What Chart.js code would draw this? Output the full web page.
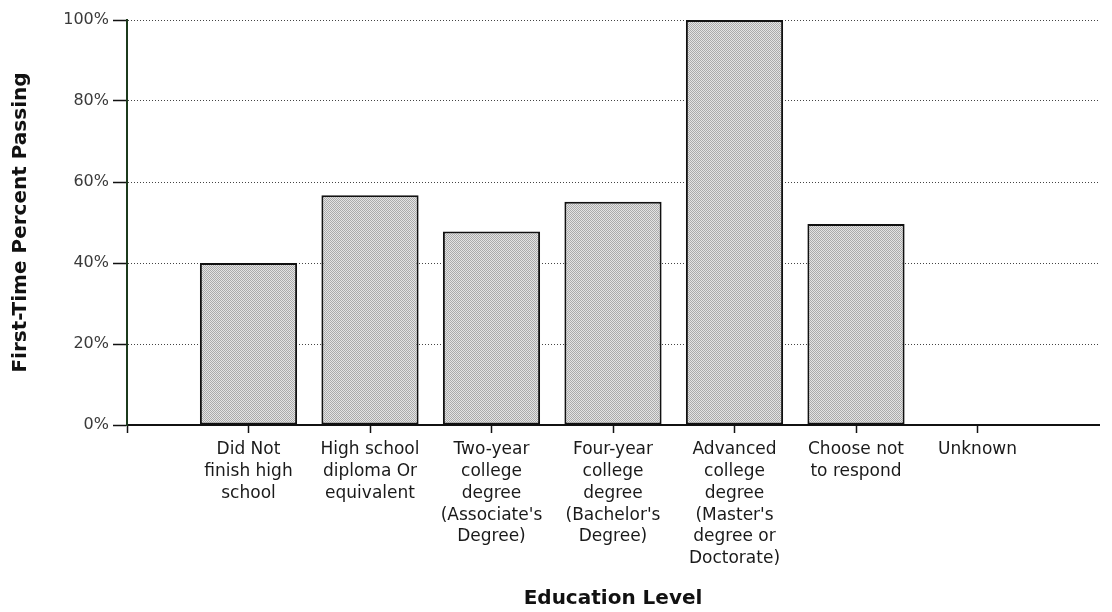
<!DOCTYPE html>
<html>
<head>
<meta charset="utf-8">
<script src="https://cdn.jsdelivr.net/npm/chart.js@4.4.1/dist/chart.umd.min.js"></script>
<style>
  html, body { margin: 0; padding: 0; background: #ffffff; }
  #wrap { width: 1112px; height: 612px; position: relative; }
</style>
</head>
<body>
<div id="wrap"><canvas id="c" width="1112" height="612"></canvas></div>
<script>
// ---- data ----
const categories = [
  "",
  ["Did Not", "finish high", "school"],
  ["High school", "diploma Or", "equivalent"],
  ["Two-year", "college", "degree", "(Associate's", "Degree)"],
  ["Four-year", "college", "degree", "(Bachelor's", "Degree)"],
  ["Advanced", "college", "degree", "(Master's", "degree or", "Doctorate)"],
  ["Choose not", "to respond"],
  ["Unknown"],
  ""
];
const passingPercent = [null, 40, 56.7, 47.8, 55.1, 100, 49.6, null, null];
const yTicks = [0, 20, 40, 60, 80, 100];
const yTitle = "First-Time Percent Passing";
const xTitle = "Education Level";

// stippled grey fill pattern (style only)
function makePattern() {
  const p = document.createElement('canvas');
  p.width = 2; p.height = 2;
  const g = p.getContext('2d');
  g.fillStyle = '#e4e4e4'; g.fillRect(0, 0, 2, 2);
  g.fillStyle = '#ababab'; g.fillRect(0, 0, 1, 1); g.fillRect(1, 1, 1, 1);
  return g.createPattern(p, 'repeat');
}

const ctx = document.getElementById('c').getContext('2d');
new Chart(ctx, {
  type: 'bar',
  data: {
    labels: categories,
    datasets: [{
      data: passingPercent,
      backgroundColor: makePattern(),
      borderColor: '#111111',
      borderWidth: 2,
      borderSkipped: false,
      categoryPercentage: 0.8,
      barPercentage: 1.0
    }]
  },
  options: {
    responsive: false,
    animation: false,
    devicePixelRatio: 1,
    layout: { padding: { top: 20, right: 13, left: 0, bottom: 0 } },
    plugins: { legend: { display: false }, tooltip: { enabled: false } },
    scales: {
      x: {
        type: 'category',
        offset: false,
        grid: {
          display: true,
          offset: false,
          drawOnChartArea: false,
          drawTicks: true,
          tickLength: 8,
          tickWidth: 1.5,
          tickColor: (c) => (c.index === categories.length - 1 ? 'rgba(0,0,0,0)' : '#111111'),
          color: 'rgba(0,0,0,0)'
        },
        border: { display: true, color: '#111111', width: 2 },
        ticks: {
          color: '#1a1a1a',
          font: { family: 'DejaVu Sans, Verdana, sans-serif', size: 17, lineHeight: 1.28 },
          maxRotation: 0,
          minRotation: 0,
          autoSkip: false,
          padding: 6
        },
        title: {
          display: true,
          text: xTitle,
          color: '#111111',
          font: { family: 'DejaVu Sans, Verdana, sans-serif', size: 20, weight: 'bold' },
          padding: { top: 0, bottom: 1 }
        },
        afterFit: (s) => { s.height = 187; }
      },
      y: {
        min: 0,
        max: 100,
        afterBuildTicks: (s) => { s.ticks = yTicks.map(v => ({ value: v })); },
        grid: {
          display: true,
          drawOnChartArea: true,
          color: '#444444',
          lineWidth: 1,
          tickLength: 14,
          tickColor: '#111111',
          tickWidth: 1.5,
          tickBorderDash: [1, 0]
        },
        border: { display: true, color: '#1c3a1c', width: 2, dash: [1, 2] },
        ticks: {
          color: '#3a3a3a',
          font: { family: 'DejaVu Sans, Verdana, sans-serif', size: 16 },
          padding: 4,
          callback: (v) => v + '%'
        },
        title: {
          display: true,
          text: yTitle,
          color: '#111111',
          font: { family: 'DejaVu Sans, Verdana, sans-serif', size: 20, weight: 'bold' },
          padding: { top: 9, bottom: 0 }
        },
        afterFit: (s) => { s.width = 127; }
      }
    }
  }
});
</script>
</body>
</html>
